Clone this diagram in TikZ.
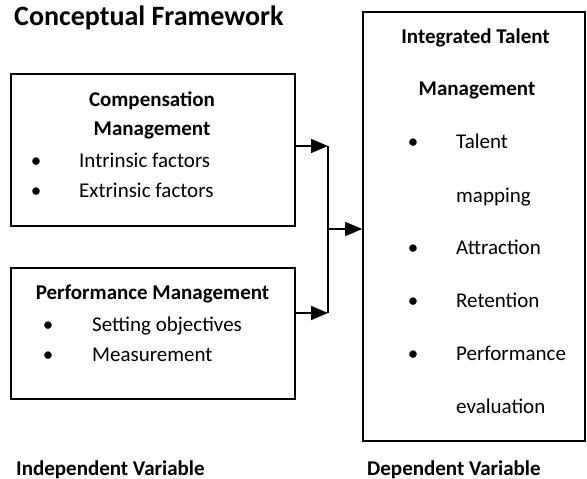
\documentclass[tikz,border=0pt]{standalone}
\usepackage{fontspec}
\setmainfont{Carlito}
\usetikzlibrary{arrows.meta}

\begin{document}
\begin{tikzpicture}[x=1pt,y=-1pt,
  every node/.style={inner sep=0pt,font=\fontsize{21}{25}\selectfont},
  box/.style={draw,line width=1.6pt},
  hd/.style={anchor=base,font=\fontsize{21}{25}\selectfont\bfseries},
  itm/.style={anchor=base west},
  bul/.style={anchor=base},
  arr/.style={line width=1.6pt,-{Triangle[length=17pt,width=14pt]}}]
\useasboundingbox (0,0) rectangle (587,479);
\node [anchor=base west,font=\fontsize{28}{32}\selectfont\bfseries] (title) at (14,25) {Conceptual Framework};
% the three boxes
\node [box,minimum width=284pt,minimum height=152pt] (comp) at (153,150) {};
\node [box,minimum width=284pt,minimum height=131pt] (perf) at (153,333.5) {};
\node [box,minimum width=222pt,minimum height=429pt] (itm) at (474,226.5) {};
% compensation
\node [hd] (comph1) at (152,106) {Compensation};
\node [hd] (comph2) at (152,135) {Management};
\node [bul] (compb1) at (36,167) {\textbullet};
\node [itm] (compi1) at (79,167) {Intrinsic factors};
\node [bul] (compb2) at (36,197) {\textbullet};
\node [itm] (compi2) at (79,197) {Extrinsic factors};
% performance
\node [hd] (perfh) at (152.5,299) {Performance Management};
\node [bul] (perfb1) at (48,331) {\textbullet};
\node [itm] (perfi1) at (92,331) {Setting objectives};
\node [bul] (perfb2) at (48,361) {\textbullet};
\node [itm] (perfi2) at (92,361) {Measurement};
% integrated talent management
\node [hd] (itmh1) at (475.5,43) {Integrated Talent};
\node [hd] (itmh2) at (477,95) {Management};
\node [bul] (itmb1) at (413,148) {\textbullet};
\node [itm] (itmi1) at (456,148) {Talent};
\node [itm] (itmi1b) at (456,202) {mapping};
\node [bul] (itmb2) at (413,254) {\textbullet};
\node [itm] (itmi2) at (456,254) {Attraction};
\node [bul] (itmb3) at (413,307) {\textbullet};
\node [itm] (itmi3) at (456,307) {Retention};
\node [bul] (itmb4) at (413,360) {\textbullet};
\node [itm] (itmi4) at (456,360) {Performance};
\node [itm] (itmi4b) at (456,413) {evaluation};
% captions
\node [anchor=base west,font=\fontsize{21}{25}\selectfont\bfseries] (indep) at (16,475) {Independent Variable};
\node [anchor=base west,font=\fontsize{21}{25}\selectfont\bfseries] (dep) at (367,475) {Dependent Variable};
% arrows
\coordinate (top) at (328,146);
\coordinate (bot) at (328,313);
\coordinate (mid) at (328,229);
\draw [arr] (comp.east |- top) -- (top);
\draw [arr] (perf.east |- bot) -- (bot);
\draw [line width=1.6pt] (top) -- (bot);
\draw [arr] (mid) -- (itm.west |- mid);
\end{tikzpicture}
\end{document}
